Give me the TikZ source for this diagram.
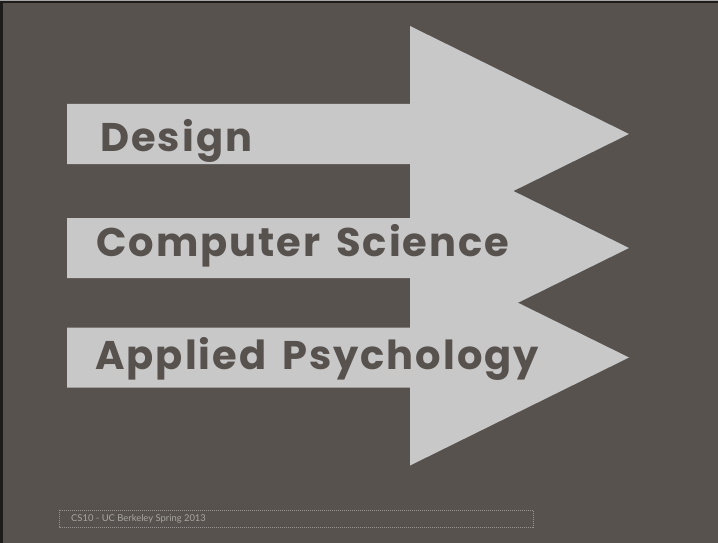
\documentclass[tikz,border=0pt]{standalone}
\usepackage{fontspec}
\setmainfont{Lato}
\newfontfamily\headfont{Poppins}[BoldFont={Poppins Bold}, LetterSpace=5, WordSpace=1.5]

\definecolor{slidebg}{HTML}{58524F}
\definecolor{arrowgray}{HTML}{C8C8C8}
\definecolor{footgray}{HTML}{A9A5A1}
\definecolor{framedark}{HTML}{1E1C1B}

\begin{document}
\begin{tikzpicture}[x=1pt, y=-1pt,
    arrowfill/.style={fill=arrowgray},
    fieldtext/.style={anchor=base west, inner sep=0pt, text=slidebg,
      font=\headfont\fontsize{40}{40}\selectfont\bfseries},
    footbox/.style={draw=footgray!80!slidebg, line width=0.6pt,
      dash pattern=on 1pt off 1pt}]
        % Slide background and frame
        \fill[slidebg] (0,0) rectangle (718,543);
        \fill[gray!70] (0,0) rectangle (718,1.5);
        \fill[framedark] (0,1.5) rectangle (718,3);
        \fill[framedark] (0,1.5) rectangle (2.5,543);
        \useasboundingbox (0,0) rectangle (718,543);

        % Three arrows: centre line of each
        \foreach \yc in {134,248,357.5} {
            \fill[arrowfill] (67,\yc-30) -- (410,\yc-30) -- (410,\yc-108)
                -- (629,\yc) -- (410,\yc+108) -- (410,\yc+30)
                -- (67,\yc+30) -- cycle;
        }

        % Labels
        \node[fieldtext] (design) at (100,151) {Design};
        \node[fieldtext] (compsci) at (96,256) {Computer Science};
        \node[fieldtext] (psych) at (95,369) {Applied Psychology};

        % Footer
        \draw[footbox] (59,510) rectangle (533,527);
        \node[anchor=west, inner sep=0pt, text=footgray,
          font=\fontsize{9.4}{9.4}\selectfont] (footer) at (71,518.5)
          {CS10 - UC Berkeley Spring 2013};
\end{tikzpicture}
\end{document}
